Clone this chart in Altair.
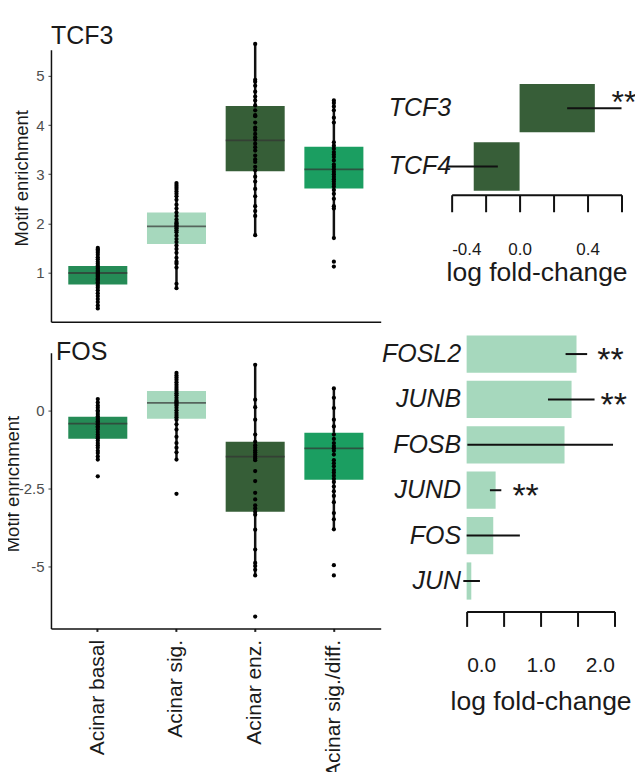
import altair as alt
import pandas as pd

FONT = "Liberation Sans"
TEXT = "#1a1a1a"

# ---------------- left panels: box plots ----------------
groups = ["Acinar basal", "Acinar sig.", "Acinar enz.", "Acinar sig./diff."]
group_colors = ["#258B56", "#A6D8BD", "#365E37", "#1B9E61"]

# TCF3 motif enrichment (box statistics)
tcf3_q1 = [0.755, 1.58, 3.06, 2.71]
tcf3_med = [0.99, 1.94, 3.69, 3.10]
tcf3_q3 = [1.13, 2.22, 4.39, 3.56]
tcf3_wlo = [0.27, 0.68, 1.76, 1.70]
tcf3_whi = [1.50, 2.82, 5.65, 4.50]

tcf3_basal = [1.50, 1.47, 1.44, 1.40, 1.36, 1.31, 1.27, 1.22, 1.18, 1.14, 1.11, 1.08, 1.05, 1.03,
              1.01, 0.99, 0.97, 0.95, 0.93, 0.91, 0.88, 0.86, 0.83, 0.80, 0.77, 0.73, 0.69, 0.64,
              0.58, 0.52, 0.46, 0.40, 0.33, 0.27]
tcf3_sig = [2.82, 2.78, 2.74, 2.70, 2.65, 2.60, 2.55, 2.48, 2.38, 2.30, 2.22, 2.15, 2.08, 2.03,
            2.00, 1.97, 1.95, 1.93, 1.90, 1.86, 1.82, 1.75, 1.68, 1.62, 1.55, 1.48, 1.40, 1.30,
            1.22, 1.18, 1.10, 0.77, 0.68]
tcf3_enz = [5.65, 4.92, 4.88, 4.80, 4.68, 4.58, 4.50, 4.40, 4.30, 4.20, 4.18, 4.05, 3.95, 3.90,
            3.82, 3.75, 3.70, 3.62, 3.55, 3.48, 3.38, 3.30, 3.25, 3.15, 3.08, 2.95, 2.85, 2.70,
            2.55, 2.35, 2.25, 2.15, 1.76]
tcf3_sigdiff = [4.50, 4.45, 4.38, 4.30, 4.15, 4.05, 3.65, 3.58, 3.52, 3.45, 3.40, 3.35, 3.28,
                3.20, 3.15, 3.10, 3.05, 3.00, 2.95, 2.90, 2.85, 2.80, 2.75, 2.68, 2.60, 2.50,
                2.35, 2.30, 1.70, 1.22, 1.12]

# FOS motif enrichment (box statistics)
fos_q1 = [-0.91, -0.27, -3.26, -2.23]
fos_med = [-0.43, 0.24, -1.49, -1.22]
fos_q3 = [-0.21, 0.62, -1.01, -0.72]
fos_wlo = [-1.58, -1.58, -5.30, -3.82]
fos_whi = [0.36, 1.20, 1.46, 0.70]

fos_basal = [0.36, 0.25, 0.15, 0.08, 0.0, -0.05, -0.12, -0.19, -0.25, -0.30, -0.35, -0.40, -0.45,
             -0.51, -0.56, -0.62, -0.70, -0.78, -0.85, -0.90, -0.97, -1.05, -1.12, -1.20, -1.30,
             -1.37, -1.48, -1.58, -2.12]
fos_sig = [1.20, 1.12, 1.05, 0.98, 0.90, 0.82, 0.75, 0.68, 0.62, 0.55, 0.48, 0.40, 0.33, 0.28,
           0.24, 0.20, 0.15, 0.08, 0.0, -0.08, -0.15, -0.22, -0.30, -0.45, -0.62, -0.85, -1.05,
           -1.20, -1.35, -1.58, -2.68]
fos_enz = [1.46, 0.34, 0.10, -0.30, -0.78, -1.01, -1.12, -1.20, -1.28, -1.35, -1.42, -1.49, -1.55,
           -1.60, -1.95, -2.27, -2.65, -2.86, -3.05, -3.15, -3.26, -3.35, -3.83, -4.47, -4.90,
           -5.00, -5.12, -5.30, -6.62]
fos_sigdiff = [0.70, 0.40, 0.07, -0.30, -0.52, -0.78, -0.92, -1.05, -1.15, -1.22, -1.30, -1.42,
               -1.60, -1.70, -1.80, -1.92, -2.00, -2.10, -2.20, -2.30, -2.45, -2.60, -2.75, -2.95,
               -3.30, -3.50, -3.82, -4.97, -5.30]

# ---------------- right panels: log fold-change bars ----------------
tcf_genes = ["TCF3", "TCF4"]
tcf_lfc = [0.443, -0.27]
tcf_lo = [0.28, -0.425]
tcf_hi = [0.60, -0.128]
tcf_star = ["**", ""]
tcf_star_x = [0.541, 0.0]

ap1_genes = ["FOSL2", "JUNB", "FOSB", "JUND", "FOS", "JUN"]
ap1_lfc = [1.486, 1.419, 1.324, 0.392, 0.36, 0.063]
ap1_lo = [1.338, 1.10, 0.01, 0.315, 0.0, -0.045]
ap1_hi = [1.63, 1.73, 1.98, 0.469, 0.72, 0.18]
ap1_star = ["**", "**", "", "**", "", ""]
ap1_star_x = [1.766, 1.811, 0.0, 0.619, 0.0, 0.0]


def box_panel(q1, med, q3, wlo, whi, pts_lists, domain, yvals, height, bottom_panel,
              title_text, title_offset, title_dx, title_x, title_y):
    stats = pd.DataFrame({"group": groups, "q1": q1, "med": med, "q3": q3,
                          "wlo": wlo, "whi": whi})
    rows = []
    for g, vals in zip(groups, pts_lists):
        for v in vals:
            rows.append({"group": g, "value": v})
    pts = pd.DataFrame(rows)

    xscale = alt.Scale(domain=groups, paddingInner=0.25, paddingOuter=0.22)
    if bottom_panel:
        xaxis = alt.Axis(title=None, labelAngle=-90, labelFontSize=21, labelColor=TEXT,
                         labelFont=FONT, tickSize=3, tickWidth=2, tickColor="#222222",
                         labelPadding=8, domainColor="#111111", domainWidth=1.5)
    else:
        xaxis = alt.Axis(title=None, labels=False, ticks=False, domainColor="#111111",
                         domainWidth=1.5)
    yscale = alt.Scale(domain=domain, nice=False, zero=False)
    yaxis = alt.Axis(values=yvals, title="Motif enrichment", titleFontSize=18.5,
                     titleFontWeight="normal", titleColor=TEXT, titleFont=FONT,
                     titleX=title_x, titleY=title_y,
                     labelExpr="datum.value < 0 ? '-' + format(abs(datum.value), '') : datum.label",
                     labelFontSize=15, labelColor="#4d4d4d", labelFont=FONT, labelPadding=4,
                     tickSize=3, tickColor="#444444", tickWidth=1,
                     domainColor="#111111", domainWidth=1.5, grid=False)
    x_enc = alt.X("group:N", scale=xscale, sort=groups, axis=xaxis)

    whisk = alt.Chart(stats).mark_rule(color="#111111", strokeWidth=2.5).encode(
        x=x_enc, y=alt.Y("wlo:Q", scale=yscale, axis=yaxis), y2="whi:Q")
    box = alt.Chart(stats).mark_bar().encode(
        x=x_enc, y=alt.Y("q1:Q", scale=yscale, axis=yaxis), y2="q3:Q",
        color=alt.Color("group:N", scale=alt.Scale(domain=groups, range=group_colors),
                        legend=None))
    median = alt.Chart(stats).mark_tick(color="#333333", thickness=1.8, size=59).encode(
        x=x_enc, y=alt.Y("med:Q", scale=yscale, axis=yaxis))
    dots = alt.Chart(pts).mark_circle(size=18, color="black", opacity=1).encode(
        x=x_enc, y=alt.Y("value:Q", scale=yscale, axis=yaxis))
    return alt.layer(whisk, box, median, dots).properties(
        width=330, height=height,
        title=alt.TitleParams(title_text, anchor="start", frame="group", fontSize=25,
                              fontWeight="normal", color=TEXT, font=FONT,
                              baseline="alphabetic", offset=title_offset, dx=title_dx))


def bar_panel(genes, lfc, lo, hi, star, star_x, color, xdomain, xrange, xvals, shown,
              yrange, pad_in, pad_out, height, tick_size, tick_font, label_pad, title_pad,
              y_offset, y_label_pad, star_dy, star_font):
    df = pd.DataFrame({"gene": genes, "lfc": lfc, "lo": lo, "hi": hi,
                       "star": star, "star_x": star_x})
    sdf = df[df["star"] != ""]
    cond = " || ".join([f"abs(datum.value - ({v})) < 1e-9" for v in shown])
    xaxis = alt.Axis(values=xvals, title="log fold-change", titleFontSize=26.5,
                     titleFontWeight="normal", titleColor=TEXT, titleFont=FONT,
                     titlePadding=title_pad,
                     labelExpr=f"({cond}) ? (datum.value < 0 ? '-' : '') + format(abs(datum.value), '.1f') : ''",
                     labelFontSize=tick_font, labelColor=TEXT, labelFont=FONT,
                     labelPadding=label_pad, tickSize=tick_size, tickWidth=2,
                     tickColor="#111111", domainColor="#111111", domainWidth=2, grid=False)
    yaxis = alt.Axis(title=None, domain=False, ticks=False, labelFontSize=25,
                     labelFontStyle="italic", labelColor=TEXT, labelFont=FONT,
                     labelPadding=y_label_pad, offset=y_offset)
    yscale = alt.Scale(domain=genes, range=yrange, paddingInner=pad_in, paddingOuter=pad_out)
    xscale = alt.Scale(domain=xdomain, range=xrange, nice=False, zero=False)
    y_enc = alt.Y("gene:N", scale=yscale, sort=genes, axis=yaxis)

    bars = alt.Chart(df).mark_bar(color=color).encode(
        y=y_enc, x=alt.X("lfc:Q", scale=xscale, axis=xaxis))
    err = alt.Chart(df).mark_rule(color="#111111", strokeWidth=2).encode(
        y=y_enc, x=alt.X("lo:Q", scale=xscale, axis=xaxis), x2="hi:Q")
    stars = alt.Chart(sdf).mark_text(align="left", baseline="alphabetic", fontSize=star_font,
                                     font=FONT, color=TEXT, dy=star_dy).encode(
        y=y_enc, x=alt.X("star_x:Q", scale=xscale, axis=xaxis), text="star:N")
    return alt.layer(bars, err, stars).properties(width=170, height=height)


tl = box_panel(tcf3_q1, tcf3_med, tcf3_q3, tcf3_wlo, tcf3_whi,
               [tcf3_basal, tcf3_sig, tcf3_enz, tcf3_sigdiff],
               [0, 5.53], [1, 2, 3, 4, 5], 272, False, "TCF3", -27, 0, -19.5, 128)
bl = box_panel(fos_q1, fos_med, fos_q3, fos_wlo, fos_whi,
               [fos_basal, fos_sig, fos_enz, fos_sigdiff],
               [-7.0, 1.85], [0, -2.5, -5], 276, True, "FOS", -32.4, 5, -28.5, 131)

tr = bar_panel(tcf_genes, tcf_lfc, tcf_lo, tcf_hi, tcf_star, tcf_star_x, "#375E38",
               [-0.4, 0.6], [0, 170], [-0.4, -0.2, 0, 0.2, 0.4, 0.6], [-0.4, 0, 0.4],
               [30, 145], 0.17, 0.07, 145, 17, 17, 30, 2, 0, 1, 5, 32)
br = bar_panel(ap1_genes, ap1_lfc, ap1_lo, ap1_hi, ap1_star, ap1_star_x, "#A6D8BD",
               [0, 2], [15, 163], [0, 0.5, 1, 1.5, 2], [0, 1, 2],
               [-29, 259], 0.18, 0.26, 259, 15, 21, 28, 13, -15, 6, 17, 34)

chart = alt.concat(tl, tr, bl, br, columns=2, spacing={"row": 31, "column": 71},
                   bounds="flush").properties(
    padding={"left": -5, "top": 14.6, "right": -1.5, "bottom": 0}
).configure(font=FONT, view=alt.ViewConfig(stroke=None))

chart.save("out.html", embed_options={"renderer": "svg", "actions": False})
